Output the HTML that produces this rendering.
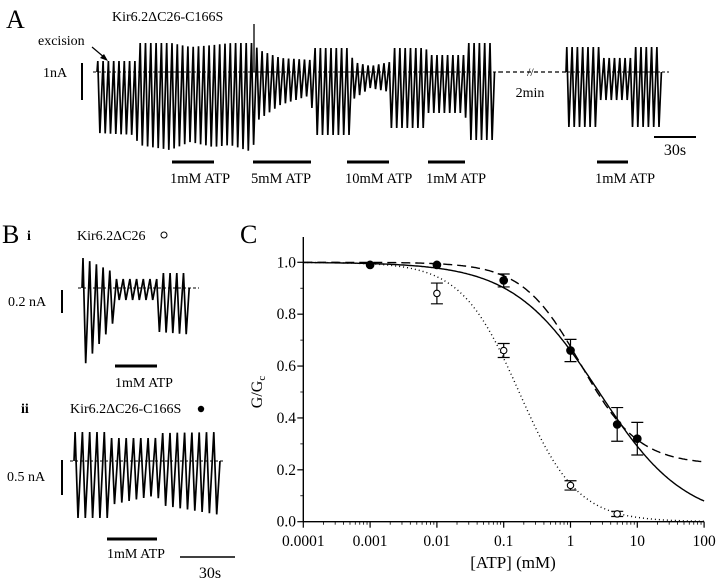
<!DOCTYPE html>
<html><head><meta charset="utf-8"><style>
html,body{margin:0;padding:0;background:#fff}
svg{display:block;font-family:"Liberation Serif",serif}
</style></head><body>
<svg id="fig" width="720" height="582" viewBox="0 0 720 582">
<!-- Panel A -->
<g id="pa">
<text x="6" y="28" font-size="26">A</text>
<text x="112" y="21" font-size="14">Kir6.2ΔC26-C166S</text>
<text x="38" y="45" font-size="14">excision</text>
<line x1="92" y1="47" x2="105" y2="58" stroke="#000" stroke-width="1.2"/>
<polygon points="108,61 100,58 104,54" fill="#000"/>
<text x="43" y="77" font-size="14">1nA</text>
<line x1="82" y1="63" x2="82" y2="100" stroke="#000" stroke-width="2"/>
<line x1="499" y1="72" x2="566" y2="72" stroke="#000" stroke-width="1.2" stroke-dasharray="4,3"/>
<text x="527" y="76" font-size="12" fill="#000">//</text>
<text x="530" y="97" font-size="14" text-anchor="middle">2min</text>
<line x1="654" y1="137" x2="696" y2="137" stroke="#000" stroke-width="2"/>
<text x="675" y="155" font-size="16" text-anchor="middle">30s</text>
</g>
<!-- Panel B -->
<g id="pb">
<text x="2" y="243" font-size="26">B</text>
<text x="27" y="240" font-size="14" font-weight="bold">i</text>
<text x="77" y="240" font-size="14">Kir6.2ΔC26</text>
<circle cx="164" cy="235" r="3" fill="none" stroke="#000"/>
<text x="8" y="306" font-size="14">0.2 nA</text>
<line x1="62" y1="290" x2="62" y2="313" stroke="#000" stroke-width="2"/>
<line x1="115" y1="366" x2="157" y2="366" stroke="#000" stroke-width="3"/>
<text x="115" y="387" font-size="14">1mM ATP</text>
<text x="21" y="413" font-size="14" font-weight="bold">ii</text>
<text x="70" y="413" font-size="14">Kir6.2ΔC26-C166S</text>
<circle cx="201" cy="409" r="3.2" fill="#000"/>
<text x="7" y="481" font-size="14">0.5 nA</text>
<line x1="62" y1="460" x2="62" y2="495" stroke="#000" stroke-width="2"/>
<line x1="107" y1="539" x2="157" y2="539" stroke="#000" stroke-width="3"/>
<text x="107" y="558" font-size="14">1mM ATP</text>
<line x1="180" y1="557" x2="235" y2="557" stroke="#000" stroke-width="1.5"/>
<text x="210" y="578" font-size="16" text-anchor="middle">30s</text>
</g>
<!-- Panel C -->
<g id="pc">
<text x="240" y="243" font-size="26">C</text>
<text x="513" y="568" font-size="17" text-anchor="middle">[ATP] (mM)</text>
<text transform="translate(262,392) rotate(-90)" font-size="16" text-anchor="middle">G/G<tspan font-size="11" dy="3">c</tspan></text>
</g>
</svg>
<script>
// ---- Panel A trace envelope data (time position, peak up, peak down) ----
var aSeg1X = [97,135,138,170,190,213,230,252,258,280,311,313,350,352,370,389,391,425,428,465,467,499];
var aSeg1Top = [61,61,43,43,47,45,43,43,50,58,60,48,48,62,66,62,48,48,55,55,43,43];
var aSeg1Bot = [133,135,145,150,142,147,145,152,120,105,95,135,135,100,88,92,128,128,113,113,140,140];
var aSeg2X = [566,598,600,630,632,665];
var aSeg2Top = [47,47,58,58,47,47];
var aSeg2Bot = [127,127,100,100,127,127];
var atpBarsStart = [172,253,347,428,597];
var atpBarsEnd = [214,311,389,465,628];
var atpLabels = ["1mM ATP","5mM ATP","10mM ATP","1mM ATP","1mM ATP"];
// ---- Panel B traces ----
var biX = [82,112,115,157,159,195];
var biTop = [258,272,279,279,273,273];
var biBot = [368,325,300,300,332,335];
var biiX = [74,107,110,157,160,220];
var biiTop = [432,432,438,438,433,432];
var biiBot = [518,518,505,495,505,515];
// ---- Panel C data ----
var atpConc = [0.001,0.01,0.1,1,5,10];
var gFilled = [0.99,0.99,0.93,0.66,0.375,0.32];
var errFilled = [0,0,0.025,0.043,0.065,0.063];
var atpOpen = [0.001,0.01,0.1,1,5];
var gOpen = [0.99,0.88,0.66,0.14,0.03];
var errOpen = [0,0.04,0.027,0.018,0.01];
var xTicks = [0.0001,0.001,0.01,0.1,1,10,100];
var xTickLabels = ["0.0001","0.001","0.01","0.1","1","10","100"];
var yTicks = [0,0.2,0.4,0.6,0.8,1.0];
var yTickLabels = ["0.0","0.2","0.4","0.6","0.8","1.0"];
var fitSolid = [2.67,0.675,0];   // K, h, plateau
var fitDashed = [1.4,1.0,0.22];
var fitDotted = [0.17,1.0,0];

var NS="http://www.w3.org/2000/svg";
var svg=document.getElementById('fig');
function mk(tag,attrs,parent){var e=document.createElementNS(NS,tag);for(var k in attrs)e.setAttribute(k,attrs[k]);(parent||svg).appendChild(e);return e;}
function interp(xs,ys,x){for(var i=0;i<xs.length-1;i++){if(x<=xs[i+1]){var t=(x-xs[i])/(xs[i+1]-xs[i]||1);return ys[i]+t*(ys[i+1]-ys[i]);}}return ys[ys.length-1];}
function trace(xs,tops,bots,base,period,name,parent){
  var pts=[];var x=xs[0];pts.push(x+','+base);
  while(x+period<=xs[xs.length-1]+0.5){
    pts.push((x+period*0.15).toFixed(1)+','+interp(xs,tops,x).toFixed(1));
    pts.push((x+period*0.55).toFixed(1)+','+interp(xs,bots,x+period*0.5).toFixed(1));
    x+=period;
  }
  pts.push(x.toFixed(1)+','+base);
  var p=mk('polyline',{points:pts.join(' '),fill:'none',stroke:'#000','stroke-width':1.7,'stroke-linejoin':'miter'},parent);
  
  
  var b=mk('line',{x1:xs[0]-4,y1:base,x2:xs[xs.length-1]+4,y2:base,stroke:'#000','stroke-width':1,'stroke-dasharray':'3,2'},parent);
  
  
}
var pa=document.getElementById('pa'),pb=document.getElementById('pb'),pc=document.getElementById('pc');
trace(aSeg1X,aSeg1Top,aSeg1Bot,72,5.3,'trace-a-segment-1',pa);
trace(aSeg2X,aSeg2Top,aSeg2Bot,72,5.3,'trace-a-segment-2',pa);
var sp=mk('line',{x1:254,y1:72,x2:254,y2:24,stroke:'#000','stroke-width':1.3},pa);


for(var i=0;i<atpBarsStart.length;i++){
  var l=mk('line',{x1:atpBarsStart[i],y1:162,x2:atpBarsEnd[i],y2:162,stroke:'#000','stroke-width':3},pa);
  
  
  var t=mk('text',{x:atpBarsStart[i]-2,y:183,'font-size':14.5},pa);t.textContent=atpLabels[i];
  
  
}
trace(biX,biTop,biBot,288,6.7,'trace-bi',pb);
trace(biiX,biiTop,biiBot,461,7.3,'trace-bii',pb);

// Panel C axes
var X0=303.3,XD=66.8,Y0=521.7,YU=259.4;
function sx(v){return X0+(Math.log10(v)+4)*XD;}
function sy(v){return Y0-v*YU;}
var ax=mk('line',{x1:X0,y1:Y0,x2:sx(100),y2:Y0,stroke:'#000','stroke-width':1.4},pc);


var ay=mk('line',{x1:X0,y1:Y0,x2:X0,y2:237,stroke:'#000','stroke-width':1.4},pc);


for(var d=-4;d<2;d++){for(var m=2;m<10;m++){var xv=m*Math.pow(10,d);
  var tk=mk('line',{x1:sx(xv),y1:Y0,x2:sx(xv),y2:Y0+3,stroke:'#000','stroke-width':0.8},pc);
  
  }}
for(var i=0;i<xTicks.length;i++){
  var tk=mk('line',{x1:sx(xTicks[i]),y1:Y0,x2:sx(xTicks[i]),y2:Y0+6,stroke:'#000','stroke-width':1.2},pc);
  
  
  var t=mk('text',{x:sx(xTicks[i]),y:546,'font-size':15.5,'text-anchor':'middle'},pc);t.textContent=xTickLabels[i];
  
  
}
for(var i=0;i<yTicks.length;i++){
  var tk=mk('line',{x1:X0-6,y1:sy(yTicks[i]),x2:X0,y2:sy(yTicks[i]),stroke:'#000','stroke-width':1.2},pc);
  
  
  var t=mk('text',{x:296,y:sy(yTicks[i])+5,'font-size':15.5,'text-anchor':'end'},pc);t.textContent=yTickLabels[i];
  
  
  if(i<yTicks.length-1){var mt=mk('line',{x1:X0-3,y1:sy(yTicks[i]+0.1),x2:X0,y2:sy(yTicks[i]+0.1),stroke:'#000','stroke-width':0.8},pc);
  
  }
}
function curve(p,dash,name){
  var pts=[];for(var l=-4;l<=2.0001;l+=0.02){var x=Math.pow(10,l);var g=p[2]+(1-p[2])/(1+Math.pow(x/p[0],p[1]));pts.push(sx(x).toFixed(1)+','+sy(g).toFixed(1));}
  var a={points:pts.join(' '),fill:'none',stroke:'#000','stroke-width':1.4};if(dash)a['stroke-dasharray']=dash;
  var c=mk('polyline',a,pc);
  
  
}
curve(fitSolid,null,'fit-solid');
curve(fitDashed,'9,5','fit-dashed');
curve(fitDotted,'1,3','fit-dotted');
function points(xs,ys,es,filled,name){
  for(var i=0;i<xs.length;i++){var cx=sx(xs[i]),cy=sy(ys[i]);
    if(es[i]>0){var e=mk('path',{d:'M'+cx+','+sy(ys[i]-es[i])+'V'+sy(ys[i]+es[i])+'M'+(cx-6)+','+sy(ys[i]-es[i])+'h12M'+(cx-6)+','+sy(ys[i]+es[i])+'h12',stroke:'#000','stroke-width':1.2,fill:'none'},pc);
      
      }
    var c=mk('circle',{cx:cx,cy:cy,r:filled?3.8:3.2,fill:filled?'#000':'#fff',stroke:'#000','stroke-width':1.1},pc);
    
    
  }
}
points(atpOpen,gOpen,errOpen,false,'open');
points(atpConc,gFilled,errFilled,true,'filled');
</script>
</body></html>
